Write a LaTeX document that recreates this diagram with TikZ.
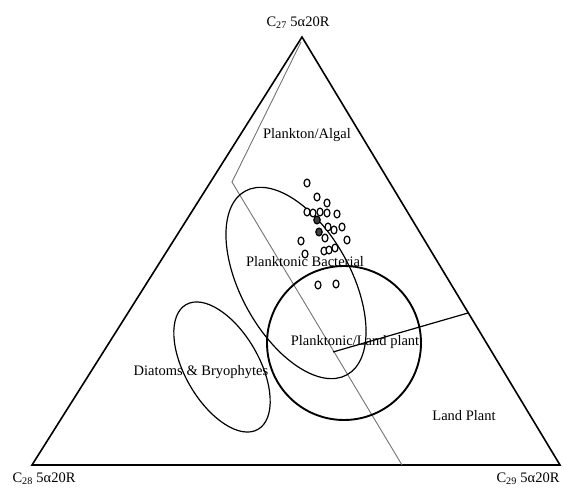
\documentclass[tikz,border=0pt]{standalone}
\usepackage{fontspec}
\setmainfont{Liberation Serif}
\usetikzlibrary{positioning}

\begin{document}
\begin{tikzpicture}[
    x=1pt, y=1pt,
    lbl/.style={inner sep=0pt, font=\fontsize{14.5}{16}\selectfont},
    side/.style={line width=1.6pt, line join=miter},
    field/.style={line width=1.2pt},
    thickfield/.style={line width=1.9pt},
    divide/.style={draw=black!55, line width=0.9pt},
    pt/.style={line width=1.2pt, fill=white},
    ptdark/.style={line width=1.2pt, fill=black!75}
    ]
    \useasboundingbox (0,0) rectangle (564,489);

    % corners of the ternary triangle
    \coordinate (c27) at (302,452);
    \coordinate (c28) at (32,24);
    \coordinate (c29) at (560,24);

    \node[lbl] (top) at (298,466) {C\textsubscript{27} 5α20R};
    \node[lbl] (left) at (44,10) {C\textsubscript{28} 5α20R};
    \node[lbl] (right) at (528,10) {C\textsubscript{29} 5α20R};

    \draw[side] (c28) -- (c27) -- (c29) -- cycle;

    % boundary lines
    \coordinate (g1) at (301,447);
    \coordinate (g2) at (232,307);
    \coordinate (g3) at (402,24);
    \draw[divide] (g1) -- (g2) -- (g3);

    \coordinate (b1) at (333,137);
    \coordinate (b2) at (468,176);
    \draw[field] (b1) -- (b2);

    % source fields
    \draw[field] (296,206) ellipse [x radius=105, y radius=55, rotate=-61];
    \draw[thickfield] (344,146) circle [radius=77];
    \draw[field] (222,122) ellipse [x radius=72, y radius=37, rotate=-60];

    \node[lbl] (algal) at (307,354) {Plankton/Algal};
    \node[lbl] (bact) at (305,227) {Planktonic Bacterial};
    \node[lbl] (landpl) at (355,147) {Planktonic/Land plant};
    \node[lbl] (diat) at (201,117) {Diatoms \& Bryophytes};
    \node[lbl] (land) at (464,73) {Land Plant};

    % samples
    \foreach \px/\py in {307/306, 317/292, 327/286, 307/277, 313/276, 320/277,
        327/276, 337/275, 328/262, 334/259, 342/262, 325/251, 347/249,
        301/248, 305/235, 324/238, 329/239, 335/241, 318/204, 336/205}
        \draw[pt] (\px,\py) ellipse [x radius=3, y radius=3.9];
    \foreach \px/\py in {317/269, 319/257}
        \draw[ptdark] (\px,\py) ellipse [x radius=3.2, y radius=3.9];

\end{tikzpicture}
\end{document}
